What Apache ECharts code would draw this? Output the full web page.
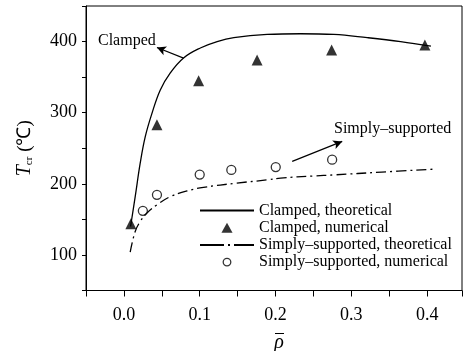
<!DOCTYPE html>
<html>
<head>
<meta charset="utf-8">
<script src="https://cdn.jsdelivr.net/npm/echarts@6/dist/echarts.min.js"></script>
<style>html,body{margin:0;padding:0;background:#fff}#c{width:465px;height:351px}</style>
</head>
<body>
<div id="c"></div>
<script>
// Data
var clampedTheory = [[0.0088,140],[0.0149,182],[0.0215,229],[0.0281,266],[0.037,299],[0.048,332],[0.0612,356],[0.0787,377],[0.1008,391],[0.123,400],[0.145,405.5],[0.189,410],[0.233,411],[0.277,410],[0.321,405.5],[0.365,400],[0.405,393.5]];
var clampedNum = [[0.0092,144],[0.0436,283],[0.0986,345],[0.1757,374],[0.274,388],[0.397,395]];
var simplyTheory = [[0.0083,104],[0.0149,133],[0.0215,147],[0.0304,159],[0.0436,170.5],[0.0612,182],[0.0832,190],[0.105,195],[0.149,201],[0.189,205.5],[0.2067,208],[0.25,211],[0.277,212.5],[0.34,216.5],[0.407,220.5]];
var simplyNum = [[0.025,162],[0.0436,184.5],[0.1,213],[0.1417,219.5],[0.2003,223.6],[0.2747,234]];
var xTicks = [0.0,0.1,0.2,0.3,0.4];
var yTicks = [100,200,300,400];
var seriesNames = ['Clamped, theoretical','Clamped, numerical','Simply\u2013supported, theoretical','Simply\u2013supported, numerical'];
var arrowClamped = [[0.0787,376.7],[0.0436,391.6]];
var arrowSimply = [[0.222,231.5],[0.288,259.6]];

var FONT = '"Liberation Serif","Times New Roman",serif';
var chart = echarts.init(document.getElementById('c'), null, {renderer:'canvas'});
function onTick(v, list){ for (var i=0;i<list.length;i++){ if (Math.abs(v-list[i])<1e-6) return true; } return false; }
var option = {
  animation: false,
  backgroundColor: '#fff',
  grid: {left:86, top:6, width:376.5, height:284.5, show:true, borderColor:'#000', borderWidth:1, backgroundColor:'transparent'},
  xAxis: {
    type:'value', min:-0.05, max:0.446, interval:0.05,
    axisLine:{show:true, onZero:false, lineStyle:{color:'#000', width:1}},
    axisTick:{show:true, inside:false, length:6, lineStyle:{color:'#000'}},
    splitLine:{show:false},
    axisLabel:{color:'#000', fontFamily:FONT, fontSize:18, margin:16,
      formatter:function(v){ return onTick(v,xTicks) ? v.toFixed(1) : ''; }}
  },
  yAxis: {
    type:'value', min:50, max:450, interval:50,
    axisLine:{show:true, onZero:false, lineStyle:{color:'#000', width:1}},
    axisTick:{show:true, inside:false, length:4, lineStyle:{color:'#000'}},
    splitLine:{show:false},
    axisLabel:{color:'#000', fontFamily:FONT, fontSize:18, margin:9,
      formatter:function(v){ return onTick(v,yTicks) ? String(v) : ''; }},
    name:'{t|T}{s|cr}{n| (\u2103)}', nameLocation:'middle', nameGap:50, nameRotate:90,
    nameTextStyle:{color:'#000', fontFamily:FONT, fontSize:18,
      rich:{
        t:{fontFamily:FONT, fontSize:20, fontStyle:'italic', color:'#000', lineHeight:22, verticalAlign:'middle'},
        s:{fontFamily:FONT, fontSize:11, color:'#000', lineHeight:22, verticalAlign:'bottom', padding:[0,0,1,0]},
        n:{fontFamily:FONT, fontSize:19, color:'#000', lineHeight:22, verticalAlign:'middle'}
      }}
  },
  legend: {
    orient:'vertical', left:199, top:202, padding:0, itemWidth:54, itemHeight:10, itemGap:0.2,
    textStyle:{color:'#000', fontFamily:FONT, fontSize:16, lineHeight:17},
    data:[
      {name:seriesNames[0], itemStyle:{opacity:0}},
      {name:seriesNames[1], icon:'path://M5,0L10,9L0,9Z', itemStyle:{color:'#000'}},
      {name:seriesNames[2], itemStyle:{opacity:0}, lineStyle:{type:[24,4,2,4]}},
      {name:seriesNames[3], icon:'path://M0,0M10,10M1.2,5A3.8,3.8 0 1,0 8.8,5A3.8,3.8 0 1,0 1.2,5Z',
        itemStyle:{color:'#fff', borderColor:'#000', borderWidth:1.3}}
    ]
  },
  graphic: [
    {type:'text', left:98, top:33, style:{text:'Clamped', font:'16px '+FONT, fill:'#000'}},
    {type:'text', left:334, top:121, style:{text:'Simply\u2013supported', font:'16px '+FONT, fill:'#000'}},
    {type:'text', x:279, y:343, style:{text:'\u03C1', font:'italic 20px '+FONT, fill:'#000', align:'center', verticalAlign:'middle'}},
    {type:'line', shape:{x1:275, y1:333.5, x2:284, y2:333.5}, style:{stroke:'#000', lineWidth:1}}
  ],
  series: [
    {name:seriesNames[0], type:'line', data:clampedTheory, smooth:0.4, showSymbol:false, symbol:'none',
      lineStyle:{color:'#000', width:1.3, type:'solid'}, itemStyle:{color:'#000'},
      markLine:{silent:true, symbol:['none','arrow'], symbolSize:[7,9], label:{show:false},
        lineStyle:{color:'#000', width:1.2, type:'solid'},
        data:[[{coord:arrowClamped[0]},{coord:arrowClamped[1]}],[{coord:arrowSimply[0]},{coord:arrowSimply[1]}]]}},
    {name:seriesNames[1], type:'scatter', data:clampedNum, symbol:'triangle', symbolSize:11,
      itemStyle:{color:'#000'}},
    {name:seriesNames[2], type:'line', data:simplyTheory, smooth:0.4, showSymbol:false, symbol:'none',
      lineStyle:{color:'#000', width:1.3, type:[10,4,2,4]}, itemStyle:{color:'#000'}},
    {name:seriesNames[3], type:'scatter', data:simplyNum, symbol:'circle', symbolSize:9,
      itemStyle:{color:'#fff', borderColor:'#000', borderWidth:1.3}}
  ]
};
chart.setOption(option);
</script>
</body>
</html>
